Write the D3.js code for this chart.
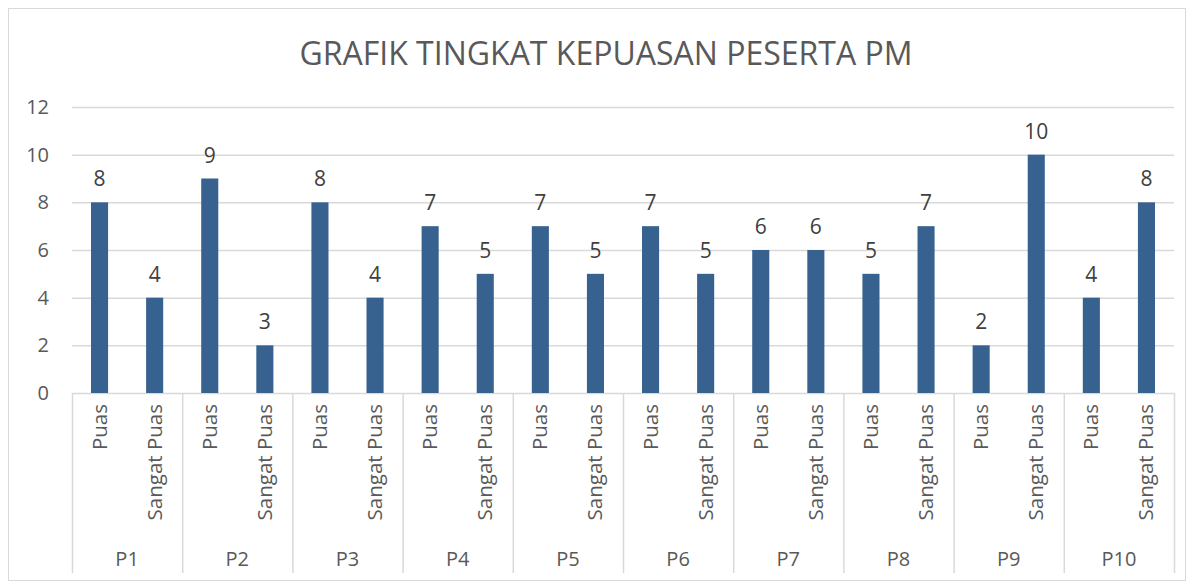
<!DOCTYPE html>
<html><head><meta charset="utf-8">
<script src="https://cdn.jsdelivr.net/npm/d3@7"></script>
<style>body{margin:0;background:#fff;} text{font-family:"Open Sans","Noto Sans",sans-serif;}</style>
</head><body>
<svg id="c" width="1194" height="581"></svg>
<script>
const groups = ["P1","P2","P3","P4","P5","P6","P7","P8","P9","P10"];
const subs = ["Puas","Sangat Puas"];
const puasValues = [8,9,8,7,7,7,6,5,2,4];
const sangatValues = [4,2,4,5,5,5,6,7,10,8];
const puasLabels = [8,9,8,7,7,7,6,5,2,4];
const sangatLabels = [4,3,4,5,5,5,6,7,10,8];
const yTicks = [0,2,4,6,8,10,12];
const title = "GRAFIK TINGKAT KEPUASAN PESERTA PM";

const svg = d3.select("#c");
svg.append("rect").attr("x",8.5).attr("y",8.5).attr("width",1177).attr("height",572).attr("fill","#fff").attr("stroke","#d9d9d9");

const L=72, R=1174, T=107, B=393, AB=573;
const y = d3.scaleLinear().domain([0,12]).range([B,T]);
const xg = d3.scaleBand().domain(groups).range([L,R]).padding(0);
const xs = d3.scaleBand().domain(subs).range([0,xg.bandwidth()]).paddingInner(0.69).paddingOuter(0.345);

svg.append("text").attr("x",606).attr("y",65).attr("text-anchor","middle").attr("font-size",32).attr("fill","#595959").text(title);

svg.append("g").selectAll("line").data(yTicks.filter(d=>d>0)).join("line")
  .attr("x1",L).attr("x2",R).attr("y1",d=>y(d)+0.5).attr("y2",d=>y(d)+0.5).attr("stroke","#d9d9d9").attr("stroke-width",1.5);
svg.append("g").selectAll("text").data(yTicks).join("text")
  .attr("x",49).attr("y",d=>y(d)).attr("dy","0.35em").attr("text-anchor","end").attr("font-size",20).attr("fill","#595959").text(d=>d);

svg.append("line").attr("x1",L).attr("x2",R).attr("y1",B+0.5).attr("y2",B+0.5).attr("stroke","#d9d9d9").attr("stroke-width",1.5);
const seps = groups.map(g=>xg(g)).concat([R]);
svg.append("g").selectAll("line").data(seps).join("line")
  .attr("x1",d=>d+0.5).attr("x2",d=>d+0.5).attr("y1",B).attr("y2",AB).attr("stroke","#d9d9d9").attr("stroke-width",1.5);

const data = [];
groups.forEach((g,i)=>{
  data.push({g, s:subs[0], v:puasValues[i], l:puasLabels[i]});
  data.push({g, s:subs[1], v:sangatValues[i], l:sangatLabels[i]});
});

svg.append("g").selectAll("rect").data(data).join("rect")
  .attr("x",d=>xg(d.g)+xs(d.s)).attr("width",xs.bandwidth())
  .attr("y",d=>y(d.v)).attr("height",d=>B-y(d.v)).attr("fill","#376290");

svg.append("g").selectAll("text").data(data).join("text")
  .attr("x",d=>xg(d.g)+xs(d.s)+xs.bandwidth()/2).attr("y",d=>y(d.v)-16)
  .attr("text-anchor","middle").attr("font-size",21).attr("fill","#404040").text(d=>d.l);

svg.append("g").selectAll("text").data(data).join("text")
  .attr("transform",d=>`translate(${xg(d.g)+xs(d.s)+xs.bandwidth()/2+7},404) rotate(-90)`)
  .attr("text-anchor","end").attr("font-size",20.5).attr("fill","#595959").text(d=>d.s);

svg.append("g").selectAll("text").data(groups).join("text")
  .attr("x",d=>xg(d)+xg.bandwidth()/2).attr("y",566).attr("text-anchor","middle")
  .attr("font-size",20).attr("fill","#595959").text(d=>d);
</script>
</body></html>
